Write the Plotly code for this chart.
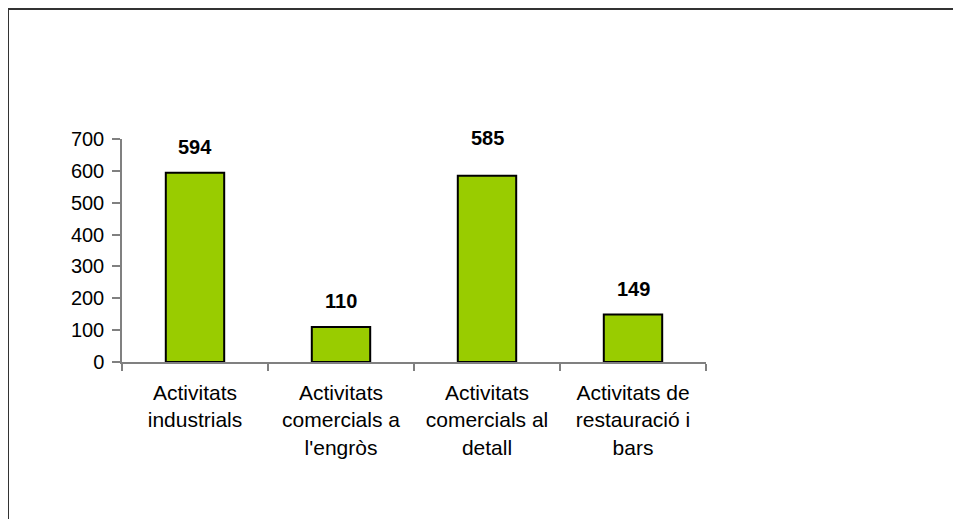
import plotly.graph_objects as go

# data
categories = [
    "Activitats<br>industrials",
    "Activitats<br>comercials a<br>l'engròs",
    "Activitats<br>comercials al<br>detall",
    "Activitats de<br>restauració i<br>bars",
]
values = [594, 110, 585, 149]
y_ticks = [0, 100, 200, 300, 400, 500, 600, 700]

# label placement above each bar (px), the original puts "585" a bit higher
label_shift = [26, 26, 38, 26]

# page body adds an 8px offset, so the figure is sized/placed to compensate
W, H = 953, 511
ML, MR, MT, MB = 114, 255, 131, 157
FONT = "Arial, Liberation Sans, sans-serif"

fig = go.Figure(go.Bar(
    x=categories,
    y=values,
    marker=dict(color="#99CC00", line=dict(color="black", width=2)),
    hoverinfo="x+y",
))

# value labels above bars
for cat, val, shift in zip(categories, values, label_shift):
    fig.add_annotation(
        x=cat, y=val, text=f"<b>{val}</b>", showarrow=False,
        yanchor="middle", yshift=shift,
        font=dict(family=FONT, size=20, color="black"),
    )

# frame (only top and left edges visible in the original)
pw, ph = W - ML - MR, H - MT - MB
def px_x(px):
    return (px - ML) / pw
def px_y(py):
    return (H - MB - py) / ph
frame = dict(color="#333333", width=2)
fig.add_shape(type="line", xref="paper", yref="paper",
              x0=px_x(0), x1=px_x(W), y0=px_y(1), y1=px_y(1), line=frame)
fig.add_shape(type="line", xref="paper", yref="paper",
              x0=px_x(0), x1=px_x(0), y0=px_y(1), y1=px_y(H), line=frame)

fig.update_layout(
    width=W, height=H,
    margin=dict(l=ML, r=MR, t=MT, b=MB),
    paper_bgcolor="white", plot_bgcolor="white",
    bargap=0.6,
    showlegend=False,
    font=dict(family=FONT, size=20, color="black"),
    xaxis=dict(
        type="category",
        showline=True, linecolor="#808080", linewidth=1.5,
        ticks="outside", tickson="boundaries", ticklen=7,
        tickcolor="#808080", tickwidth=1.5,
        ticklabelstandoff=11,
        showgrid=False, zeroline=False,
        tickfont=dict(family=FONT, size=21, color="black"),
    ),
    yaxis=dict(
        range=[0, 700], tickvals=y_ticks,
        showline=True, linecolor="#808080", linewidth=1.5,
        ticks="outside", ticklen=8, tickcolor="#808080", tickwidth=1.5,
        ticklabelstandoff=4,
        showgrid=False, zeroline=False,
        tickfont=dict(family=FONT, size=20, color="black"),
    ),
)

fig.write_html("out.html")
